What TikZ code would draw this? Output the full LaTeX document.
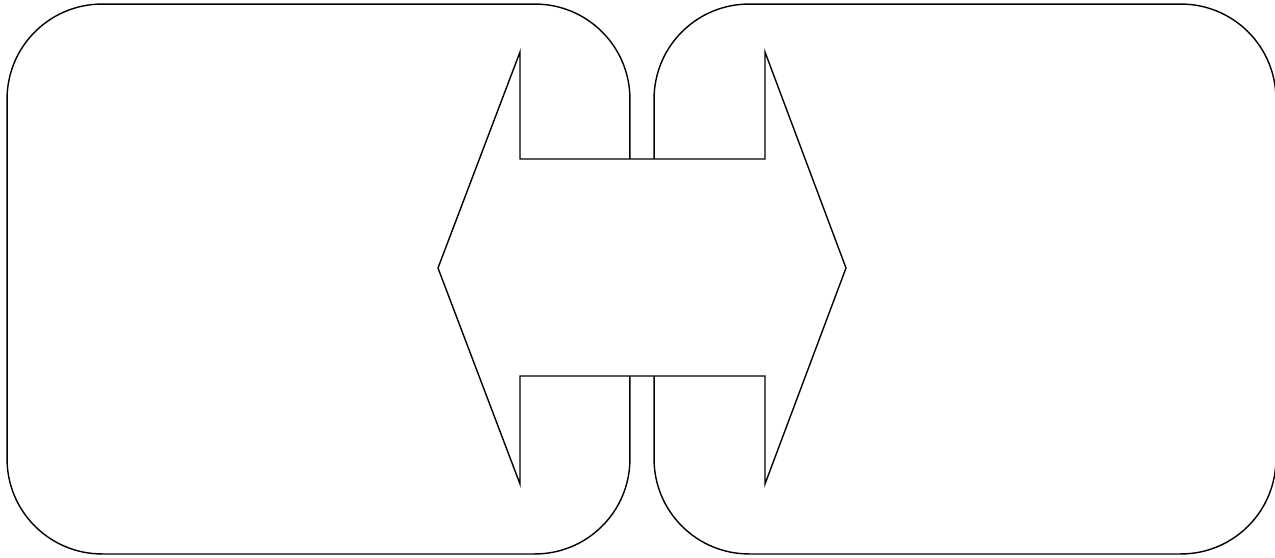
\documentclass[tikz,border=0pt]{standalone}
\begin{document}
\begin{tikzpicture}[x=0.02cm, y=-0.02cm, line width=0.8pt,
    box/.style={draw, rounded corners=1.9cm, minimum height=11cm, inner sep=0pt},
    bigarrow/.style={draw, fill=white}]
  \useasboundingbox (0,0) rectangle (1275,558);

  % two rounded boxes
  \node[box, minimum width=12.46cm] (lbox) at (318.5,279) {};
  \node[box, minimum width=12.44cm] (rbox) at (965,279) {};

  % double arrow on top
  \draw[bigarrow] (438,268) -- (520,52) -- (520,159) -- (765,159) -- (765,52)
    -- (846,268) -- (765,484) -- (765,376) -- (520,376) -- (520,484) -- cycle;
\end{tikzpicture}
\end{document}
